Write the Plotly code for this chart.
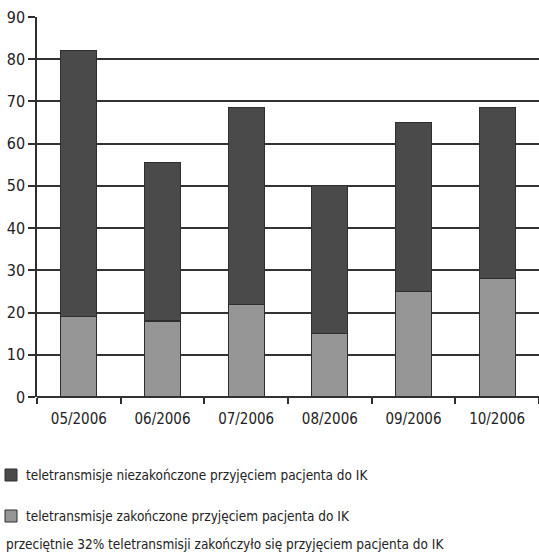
import plotly.graph_objects as go

months = ["05/2006", "06/2006", "07/2006", "08/2006", "09/2006", "10/2006"]
# teletransmissions that ended with the patient admitted to IK (lower segment)
zakonczone = [19, 18, 22, 15, 25, 28]
# teletransmissions not ending with admission (upper segment)
niezakonczone = [63, 37.5, 46.5, 35, 40, 40.5]

name_dark = "teletransmisje niezakończone przyjęciem pacjenta do IK"
name_light = "teletransmisje zakończone przyjęciem pacjenta do IK"
note = "przeciętnie 32% teletransmisji zakończyło się przyjęciem pacjenta do IK"

FONT = "Liberation Sans Narrow, DejaVu Sans Condensed, Arial Narrow, sans-serif"
DARK = "#4a4a4a"
LIGHT = "#969696"
EDGE = "#2e2e2e"
W, H = 539, 560

fig = go.Figure()
fig.add_trace(go.Bar(
    x=months, y=zakonczone, name=name_light,
    marker=dict(color=LIGHT, line=dict(color=EDGE, width=1.2)),
    width=0.43,
))
fig.add_trace(go.Bar(
    x=months, y=niezakonczone, name=name_dark,
    marker=dict(color=DARK, line=dict(color=EDGE, width=1.2)),
    width=0.43,
))

# key below the chart: swatch + label per series, then the summary line
key_rows = [(name_dark, DARK, 475), (name_light, LIGHT, 516)]
for label, color, yc in key_rows:
    fig.add_shape(
        type="rect", xref="paper", yref="paper",
        x0=-32 / 502, x1=-20 / 502,
        y0=(397 - (yc + 6)) / 380, y1=(397 - (yc - 6)) / 380,
        fillcolor=color, line=dict(color=EDGE, width=1),
    )
    fig.add_annotation(
        text=label, xref="paper", yref="paper", x=-13 / 502,
        y=(397 - yc) / 380, xanchor="left", yanchor="middle",
        showarrow=False, font=dict(family=FONT, size=13.5, color="#222"),
    )

fig.add_annotation(
    text=note, xref="paper", yref="paper", x=-33 / 502, y=(397 - 544) / 380,
    xanchor="left", yanchor="middle", showarrow=False,
    font=dict(family=FONT, size=13.5, color="#222"),
)

fig.update_layout(
    width=W, height=H,
    margin=dict(l=37, r=0, t=17, b=163),
    paper_bgcolor="white", plot_bgcolor="white",
    barmode="stack", bargap=0.57,
    font=dict(family=FONT, color="#222"),
    showlegend=False,
    xaxis=dict(
        type="category", tickson="boundaries", ticks="outside",
        ticklen=6, tickwidth=1.5, tickcolor=EDGE, ticklabelstandoff=11,
        showgrid=False, showline=False,
        tickfont=dict(family=FONT, size=15, color="#222"),
    ),
    yaxis=dict(
        range=[0, 90], dtick=10, ticks="outside", ticklen=7,
        tickwidth=1.5, tickcolor=EDGE,
        showgrid=True, gridcolor="#333", gridwidth=1.5,
        showline=True, linecolor=EDGE, linewidth=1.5,
        zeroline=True, zerolinecolor="#333", zerolinewidth=1.5,
        tickfont=dict(family=FONT, size=16, color="#222"),
    ),
)

fig.write_html("out.html")
